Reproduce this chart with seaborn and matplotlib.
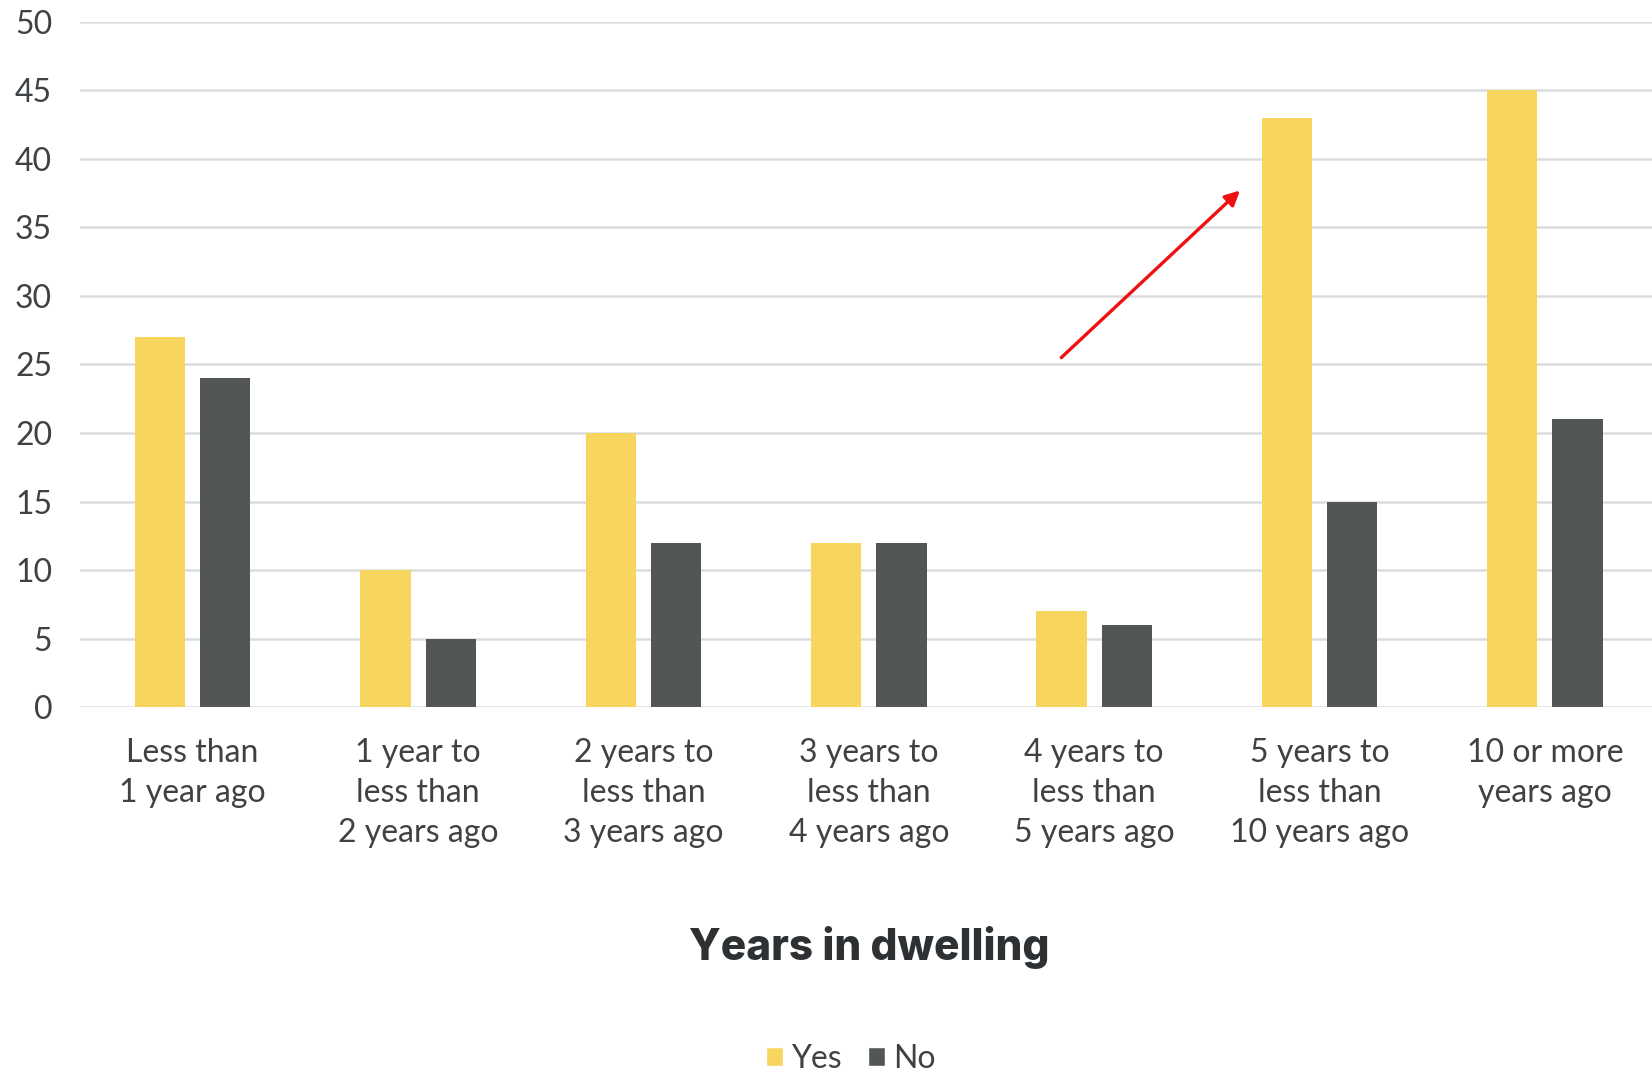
import matplotlib
matplotlib.use("Agg")
import matplotlib.pyplot as plt
import seaborn as sns
import pandas as pd

categories = ["Less than\n1 year ago", "1 year to\nless than\n2 years ago", "2 years to\nless than\n3 years ago",
              "3 years to\nless than\n4 years ago", "4 years to\nless than\n5 years ago",
              "5 years to\nless than\n10 years ago", "10 or more\nyears ago"]
yes_values = [27, 10, 20, 12, 7, 43, 45]
no_values = [24, 5, 12, 12, 6, 15, 21]
series_names = ["Yes", "No"]
y_ticks = [0, 5, 10, 15, 20, 25, 30, 35, 40, 45, 50]
x_title = "Years in dwelling"

rows = []
for c, y, n in zip(categories, yes_values, no_values):
    rows.append({"cat": c, "series": "Yes", "value": y})
    rows.append({"cat": c, "series": "No", "value": n})
df = pd.DataFrame(rows)

sns.set_theme(style="white")
plt.rcParams['font.family'] = ['Lato', 'DejaVu Sans']

YELLOW = "#F8D55F"
DARK = "#525657"
GRID = "#DADDE0"
TXT = "#3F4244"

fig = plt.figure(figsize=(16.52, 10.76), dpi=100)
ax = fig.add_axes([0.0484, 0.3429, 0.955, 0.6367])

sns.barplot(data=df, x="cat", y="value", hue="series", order=categories, hue_order=series_names,
            palette={"Yes": YELLOW, "No": DARK}, width=0.58, gap=0.23, ax=ax,
            saturation=1, legend=False, zorder=3, linewidth=0)

ax.set_ylim(0, 50)
ax.set_xlim(-0.5, 6.5)
ax.set_yticks(y_ticks)
ax.yaxis.grid(True, color=GRID, linewidth=1.8, zorder=0)
ax.set_axisbelow(True)
for s in ax.spines.values():
    s.set_visible(False)
ax.tick_params(axis='both', length=0, labelsize=23, labelcolor=TXT)
ax.tick_params(axis='y', pad=20)
ax.tick_params(axis='x', pad=22)
for lbl in ax.get_xticklabels():
    lbl.set_linespacing(1.42)
    lbl.set_verticalalignment('top')
ax.set_xlabel("")
ax.set_ylabel("")

fig.text(0.526, 0.119, x_title, ha='center', va='center', fontsize=30.5, fontweight='heavy',
         family=['Inter', 'DejaVu Sans'], color="#2E3133")

from matplotlib.patches import Patch
handles = [Patch(facecolor=YELLOW, label="Yes"), Patch(facecolor=DARK, label="No")]
fig.legend(handles=handles, loc='center', bbox_to_anchor=(0.515, 0.016), ncol=2, frameon=False,
           fontsize=23, handlelength=0.55, handleheight=0.55, handletextpad=0.25, columnspacing=0.8,
           labelcolor=TXT, borderpad=0)

ax.annotate("", xy=(4.647, 37.7), xytext=(3.854, 25.5),
            arrowprops=dict(arrowstyle="-|>", color="#EE1111", lw=2.4, mutation_scale=22,
                            shrinkA=0, shrinkB=0), zorder=5)

fig.savefig("out.png", dpi=100)
